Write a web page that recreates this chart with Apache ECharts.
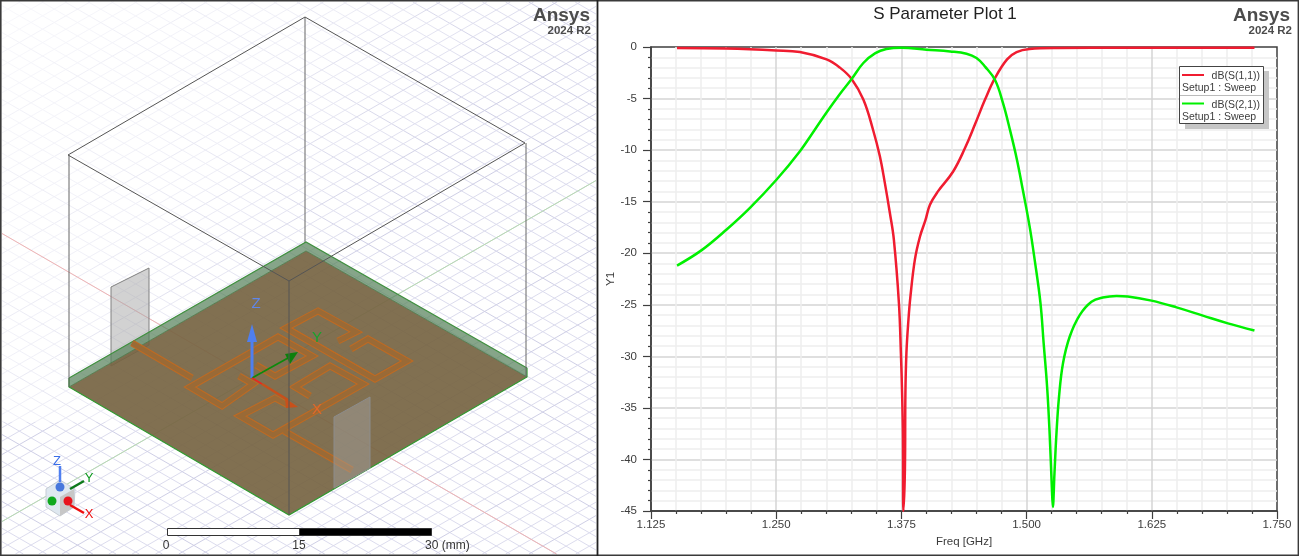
<!DOCTYPE html>
<html>
<head>
<meta charset="utf-8">
<style>html,body{margin:0;padding:0;background:#fff}#c{width:1299px;height:556px}</style>
<script src="https://cdn.jsdelivr.net/npm/echarts@6/dist/echarts.min.js"></script>
</head>
<body>
<div id="c"></div>
<script>
// ---------- chart data ----------
const s11Freq = [1.151,1.2,1.25,1.2737,1.3003,1.3136,1.3253,1.337,1.3466,1.3535,1.3585,1.3635,1.3675,1.3725,1.3745,1.3757,1.3765,1.377,1.3785,1.379,1.38,1.382,1.384,1.3885,1.3935,1.399,1.4035,1.4115,1.4265,1.4385,1.4485,1.4585,1.4685,1.4805,1.49,1.503,1.53,1.6,1.7275];
const s11Val  = [-0.1,-0.15,-0.33,-0.49,-1.2,-2.0,-3.1,-5.1,-8.0,-10.6,-13.2,-16.1,-18.7,-24.8,-29.7,-33.6,-37.5,-45,-41,-33.6,-29.7,-26.5,-24.2,-20.6,-18.4,-16.8,-15.3,-14,-12.1,-9.8,-7.5,-5.1,-3.0,-1.2,-0.5,-0.2,-0.1,-0.08,-0.08];
const s21Freq = [1.151,1.1756,1.2005,1.2238,1.25,1.2737,1.2887,1.3006,1.3136,1.3253,1.337,1.349,1.36,1.375,1.4,1.4237,1.44,1.45,1.4585,1.4685,1.4763,1.4833,1.4903,1.4963,1.503,1.508,1.5138,1.517,1.5205,1.523,1.5252,1.5262,1.5278,1.5298,1.5323,1.5363,1.543,1.553,1.5648,1.576,1.5897,1.601,1.6247,1.6497,1.676,1.701,1.7275];
const s21Val  = [-21.2,-19.7,-17.7,-15.6,-12.9,-10.1,-8.0,-6.3,-4.55,-3.1,-1.55,-0.6,-0.2,-0.07,-0.26,-0.43,-0.65,-1.07,-1.9,-3.2,-5.4,-8.0,-10.9,-13.9,-17.4,-20.6,-24.8,-28.7,-33,-37.5,-42.7,-44.6,-41.4,-37.5,-34,-30.7,-28.1,-26,-24.7,-24.3,-24.15,-24.2,-24.6,-25.25,-26.05,-26.8,-27.5];
const seriesNames = ['dB(S(1,1))','dB(S(2,1))'];
const setupLabel = 'Setup1 : Sweep';
const scaleLabels = ['0','15','30 (mm)'];

// ---------- helpers for the 3D view illustration ----------
const RED='#f01c30', GREEN='#00f000';
function line(pts,stroke,w,extra){return Object.assign({type:'polyline',silent:true,shape:{points:pts},style:{stroke:stroke,lineWidth:w,fill:null,lineJoin:'miter',lineCap:'butt'}},extra||{});}
function poly(pts,fill,stroke,w,extra){return Object.assign({type:'polygon',silent:true,shape:{points:pts},style:{fill:fill,stroke:stroke||null,lineWidth:w||0,lineJoin:'miter'}},extra||{});}
function txt(x,y,t,font,fill,align,extra){return Object.assign({type:'text',silent:true,style:{x:x,y:y,text:t,font:font,fill:fill,align:align||'left',verticalAlign:'middle'}},extra||{});}
function rect(x,y,w,h,fill,stroke,lw,extra){return Object.assign({type:'rect',silent:true,shape:{x:x,y:y,width:w,height:h},style:{fill:fill,stroke:stroke||null,lineWidth:lw||0}},extra||{});}
function clipLine(x0,y0,m){ // y = y0 + m*(x-x0) clipped to left panel
  const L=2,R=596,T=2,B=554;
  let a=L,b=R;
  const ya=y0+m*(a-x0), yb=y0+m*(b-x0);
  if(Math.max(ya,yb)<T||Math.min(ya,yb)>B) return null;
  if(ya<T) a=x0+(T-y0)/m; if(ya>B) a=x0+(B-y0)/m;
  if(yb<T) b=x0+(T-y0)/m; if(yb>B) b=x0+(B-y0)/m;
  return [[a,y0+m*(a-x0)],[b,y0+m*(b-x0)]];
}
function leftPanel(){
  const g=[], O=[252,378], UP=-0.574, DN=0.578, STEP=13.4;
  g.push(rect(0,0,597,556,'#fff'));
  for(let i=-60;i<=60;i++){
    [UP,DN].forEach(m=>{
      const p=clipLine(O[0],O[1]+i*STEP,m);
      if(p) g.push(line(p,(i%5===0)?'#cfcfe6':'#dcdcee',1));
    });
  }
  g.push(rect(2,2,595,420,{type:'linear',x:0,y:0,x2:0.62,y2:0.62,colorStops:[{offset:0,color:'rgba(255,255,255,0.8)'},{offset:0.55,color:'rgba(255,255,255,0.55)'},{offset:1,color:'rgba(255,255,255,0)'}]}));
  // global axes
  g.push(line(clipLine(O[0],O[1],DN),'#f0b4b4',1));
  g.push(line(clipLine(O[0],O[1],UP),'#b8dcb0',1));
  // back of box and port 1
  g.push(line([[305,17],[305,243]],'#666',1));
  g.push(poly([[111,287],[149,268],[149,345],[111,366]],'rgba(165,165,165,0.5)','#808080',1));
  // substrate
  g.push(poly([[69,378],[306,242],[527,368],[527,377],[306,251],[69,387]],'rgba(88,130,92,0.72)'));
  g.push(poly([[69,387],[306,251],[527,377],[289,515]],'rgba(118,100,66,0.92)'));
  g.push(line([[69,378],[306,242],[527,368]],'#3f8f3f',1.2));
  g.push(line([[69,387],[306,251],[527,377]],'rgba(70,120,70,0.8)',1));
  g.push(line([[69,378],[69,387],[289,515],[527,377],[527,368]],'#2f9a2f',1.2));
  // printed trace
  const traces=[
    [[132,343],[192,378]],
    [[239,376],[253,384],[222,406],[190,387],[278,337],[312,356],[275,376],[256,365]],
    [[338,341],[356,332],[318,311],[286,328],[375,379],[407,361],[368,339],[351,349]],
    [[310,396],[295,387],[330,366],[363,384],[273,435],[240,416],[275,398],[288,405]],
    [[284,431],[352,470]]
  ];
  traces.forEach(t=>g.push(line(t,'#bf6a22',6.8)));
  traces.forEach(t=>g.push(line(t,'#9a6a36',4.8)));
  g.push(line([[292,328],[372,374]],'#bf6a22',1));
  // triad
  g.push(line([[252,378],[252,332]],'#4f7ff0',3));
  g.push(poly([[252,324],[247,342],[257,342]],'#4f7ff0'));
  g.push(line([[252,378],[288,358]],'#0c8a0c',1.6));
  g.push(poly([[298,352],[285,354],[290,364]],'#0c800c'));
  g.push(line([[252,378],[262,384]],'#e8281e',1.6));
  g.push(line([[262,384],[288,400]],'#c8501a',2.4));
  g.push(poly([[298,407],[285,398],[286,408]],'#c8501a'));
  g.push(txt(256,304,'Z','15px "Liberation Sans"','#5f86ea','center'));
  g.push(txt(317,338,'Y','15px "Liberation Sans"','#17a32c','center'));
  g.push(txt(317,410,'X','15px "Liberation Sans"','#e0682c','center'));
  // front of box and port 2
  g.push(poly([[334,417],[370,397],[370,468],[334,488]],'rgba(165,165,165,0.45)','#8c8c8c',1));
  g.push(line([[69,155],[69,387]],'#666',1));
  g.push(line([[526,143],[526,377]],'#666',1));
  g.push(line([[289,281],[289,515]],'#555',1));
  g.push(line([[305,17],[68,155],[289,281],[525,143],[305,17]],'#555',1));
  // orientation widget
  g.push(poly([[60,480],[75,489],[74,507],[60,516],[46,507],[46,489]],'#dfe8f0','#c6ccd4',1));
  g.push(poly([[60,497],[74,489],[74,507],[60,516]],'#c7c7c7'));
  g.push(line([[60,482],[60,466]],'#4f7ff0',2.5));
  g.push(line([[70,489],[84,481]],'#0d7a1a',2.5));
  g.push(line([[70,505],[84,513]],'#ee1010',2.5));
  g.push({type:'circle',silent:true,shape:{cx:60,cy:487,r:4.5},style:{fill:'#4878dc'}});
  g.push({type:'circle',silent:true,shape:{cx:52,cy:501,r:4.5},style:{fill:'#10a81e'}});
  g.push({type:'circle',silent:true,shape:{cx:68,cy:501,r:4.5},style:{fill:'#e8141e'}});
  g.push(txt(57,461,'Z','13px "Liberation Sans"','#3a6ee8','center'));
  g.push(txt(89,478,'Y','13px "Liberation Sans"','#0f9a1f','center'));
  g.push(txt(89,514,'X','13px "Liberation Sans"','#ee1010','center'));
  // scale bar
  g.push(rect(167.5,528.5,132,7,'#fff','#333',1));
  g.push(rect(299.5,528.5,132,7,'#000','#333',1));
  g.push(txt(166,546,scaleLabels[0],'12px "Liberation Sans"','#333','center'));
  g.push(txt(299,546,scaleLabels[1],'12px "Liberation Sans"','#333','center'));
  g.push(txt(425,546,scaleLabels[2],'12px "Liberation Sans"','#333','left'));
  // brand
  g.push(txt(590,16,'Ansys','bold 19px "Liberation Sans"','#4c4c4c','right'));
  g.push(txt(591,31,'2024 R2','bold 11.5px "Liberation Sans"','#4c4c4c','right'));
  return g;
}
function rightPanel(){
  const g=[];
  g.push(txt(1290,16,'Ansys','bold 19px "Liberation Sans"','#4c4c4c','right',{z:20}));
  g.push(txt(1292,31,'2024 R2','bold 11.5px "Liberation Sans"','#4c4c4c','right',{z:20}));
  g.push(rect(1185,71,84,58,'#c6c6c6',null,0,{z:20}));
  g.push(rect(1179.5,66.5,84,57,'#fff','#444',1,{z:21}));
  g.push(line([[1180,95.5],[1263,95.5]],'#bbb',1,{z:22}));
  g.push(line([[1182,75],[1204,75]],RED,2,{z:22}));
  g.push(line([[1182,103.5],[1204,103.5]],GREEN,2,{z:22}));
  const f='10.5px "Liberation Sans"', c='#3c3c3c';
  g.push(txt(1260,76,seriesNames[0],f,c,'right',{z:22}));
  g.push(txt(1182,88,setupLabel,f,c,'left',{z:22}));
  g.push(txt(1260,105,seriesNames[1],f,c,'right',{z:22}));
  g.push(txt(1182,117,setupLabel,f,c,'left',{z:22}));
  return g;
}
function frame(){
  const c='#3a3a3a';
  return [
    rect(0,0,1299,1.6,c,null,0,{z:30}),
    rect(0,554.4,1299,1.6,c,null,0,{z:30}),
    rect(0,0,1.6,556,c,null,0,{z:30}),
    rect(1297.6,0,1.4,556,c,null,0,{z:30}),
    rect(596.6,0,1.8,556,'#222',null,0,{z:30})
  ];
}

const chart=echarts.init(document.getElementById('c'),null,{renderer:'canvas'});
const zip=(a,b)=>a.map((v,i)=>[v,b[i]]);
const labelStyle={fontFamily:'Liberation Sans',fontSize:11.5,color:'#3c3c3c'};
const major={show:true,showMinLine:false,showMaxLine:false,lineStyle:{color:'#d4d4d4',width:1.5}};
chart.setOption({
  animation:false,
  backgroundColor:'#fff',
  title:{text:'S Parameter Plot 1',left:940,top:1,textAlign:'center',textStyle:{fontFamily:'Liberation Sans',fontSize:17,fontWeight:'normal',color:'#222'}},
  grid:{left:651,top:47,width:626,height:464,show:true,borderColor:'#3f3f3f',borderWidth:1.5,backgroundColor:'transparent',containLabel:false},
  xAxis:{type:'value',min:1.125,max:1.75,interval:0.125,
    name:'Freq [GHz]',nameLocation:'middle',nameGap:24,nameTextStyle:Object.assign({},labelStyle,{fontSize:11.5}),
    axisLine:{show:true,onZero:false,lineStyle:{color:'#3f3f3f',width:1.5}},
    axisTick:{show:true,length:8,lineStyle:{color:'#3f3f3f',width:1.2}},
    minorTick:{show:true,splitNumber:5,length:3,lineStyle:{color:'#3f3f3f',width:1.2}},
    axisLabel:Object.assign({},labelStyle,{margin:8,showMinLabel:true,showMaxLabel:true,formatter:v=>v.toFixed(3)}),
    splitLine:major,
    minorSplitLine:{show:true,lineStyle:{color:'#eeeeee',width:1.5}}},
  yAxis:{type:'value',min:-45,max:0,interval:5,
    name:'Y1',nameLocation:'middle',nameGap:33,nameRotate:90,nameTextStyle:Object.assign({},labelStyle,{fontSize:11.5}),
    axisLine:{show:true,onZero:false,lineStyle:{color:'#3f3f3f',width:1.5}},
    axisTick:{show:true,length:8,lineStyle:{color:'#3f3f3f',width:1.2}},
    minorTick:{show:true,splitNumber:5,length:3,lineStyle:{color:'#3f3f3f',width:1.2}},
    axisLabel:Object.assign({},labelStyle,{margin:14}),
    splitLine:major,
    minorSplitLine:{show:true,lineStyle:{color:'#eeeeee',width:1.5}}},
  series:[
    {name:seriesNames[0],type:'line',data:zip(s11Freq,s11Val),showSymbol:false,symbol:'none',smooth:0.4,lineStyle:{color:RED,width:2.5},z:3},
    {name:seriesNames[1],type:'line',data:zip(s21Freq,s21Val),showSymbol:false,symbol:'none',smooth:0.4,lineStyle:{color:GREEN,width:2.5},z:4}
  ],
  graphic:{elements:[].concat(leftPanel(),rightPanel(),frame())}
});
</script>
</body>
</html>
